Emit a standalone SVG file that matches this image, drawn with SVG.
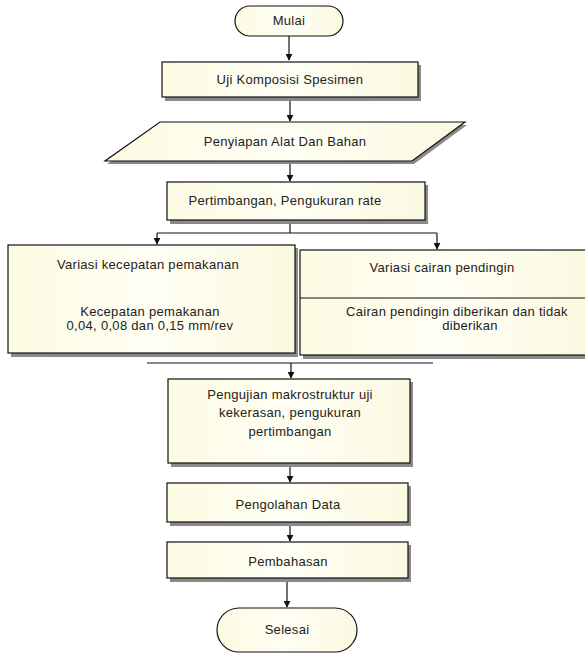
<svg xmlns="http://www.w3.org/2000/svg" width="585" height="657" viewBox="0 0 585 657">
<defs>
<marker id="ah" viewBox="0 0 10 10" refX="9" refY="5" markerWidth="7" markerHeight="7" orient="auto" markerUnits="userSpaceOnUse"><path d="M0,0 L10,5 L0,10 z" fill="#111"/></marker>
<linearGradient id="g" x1="0" y1="0" x2="1" y2="0"><stop offset="0" stop-color="#fdfbe2"/><stop offset="0.5" stop-color="#fffef4"/><stop offset="1" stop-color="#fbf9e0"/></linearGradient>
</defs>
<style>
.box{fill:url(#g);stroke:#111;stroke-width:1.2}
.sh{fill:#8a8a8a}
.t{font-family:"Liberation Sans",Arial,sans-serif;font-size:13px;letter-spacing:0.3px;fill:#222;text-anchor:middle}
.c{fill:none;stroke:#111;stroke-width:1.2}
.ca{fill:none;stroke:#111;stroke-width:1.2;marker-end:url(#ah)}
</style>
<rect width="585" height="657" fill="#fff"/>
<g id="connectors">
<line class="ca" x1="289" y1="36" x2="289" y2="60"/>
<line class="ca" x1="290" y1="101" x2="290" y2="121"/>
<line class="ca" x1="290" y1="161" x2="290" y2="181"/>
<polyline class="c" points="290,224 290,233"/>
<line class="c" x1="157" y1="233" x2="437" y2="233"/>
<line class="ca" x1="157" y1="233" x2="157" y2="244"/>
<line class="ca" x1="437" y1="233" x2="437" y2="249"/>
<line class="c" x1="147" y1="363" x2="433" y2="363"/>
<line class="ca" x1="291" y1="363" x2="291" y2="378"/>
<line class="ca" x1="290" y1="466" x2="290" y2="482"/>
<line class="ca" x1="290" y1="525" x2="290" y2="541"/>
<line class="ca" x1="287" y1="581" x2="287" y2="607"/>
</g>
<g id="mulai">
<rect class="box" x="235" y="6" width="108" height="30" rx="15"/>
<text class="t" x="289" y="25">Mulai</text>
</g>
<g id="uji">
<rect class="sh" x="165" y="65" width="256" height="36"/>
<rect class="box" x="162" y="62" width="256" height="35"/>
<text class="t" x="290" y="84">Uji Komposisi Spesimen</text>
</g>
<g id="penyiapan">
<polygon class="sh" points="162,125 467,125 414,164 107,164"/>
<polygon class="box" points="160,122 465,122 412,161 105,161"/>
<text class="t" x="285" y="146">Penyiapan Alat Dan Bahan</text>
</g>
<g id="pertimbangan">
<rect class="sh" x="170" y="185" width="258" height="39"/>
<rect class="box" x="167" y="182" width="258" height="38"/>
<text class="t" x="285" y="205">Pertimbangan, Pengukuran rate</text>
</g>
<g id="variasi-kecepatan">
<rect class="sh" x="11" y="248" width="287" height="109"/>
<rect class="box" x="8" y="245" width="287" height="108"/>
<text class="t" x="148" y="269">Variasi kecepatan pemakanan</text>
<text class="t" x="150" y="316">Kecepatan pemakanan</text>
<text class="t" x="150" y="330">0,04, 0,08 dan 0,15 mm/rev</text>
</g>
<g id="variasi-cairan">
<rect class="sh" x="303" y="253" width="290" height="106"/>
<rect class="box" x="300" y="250" width="290" height="105"/>
<line class="c" x1="300" y1="298" x2="590" y2="298"/>
<text class="t" x="442" y="272">Variasi cairan pendingin</text>
<text class="t" x="457" y="316">Cairan pendingin diberikan dan tidak</text>
<text class="t" x="470" y="330">diberikan</text>
</g>
<g id="pengujian">
<rect class="sh" x="171" y="382" width="242" height="85"/>
<rect class="box" x="168" y="379" width="242" height="84"/>
<text class="t" x="290" y="399">Pengujian makrostruktur uji</text>
<text class="t" x="290" y="417">kekerasan, pengukuran</text>
<text class="t" x="290" y="436">pertimbangan</text>
</g>
<g id="pengolahan">
<rect class="sh" x="170" y="486" width="241" height="40"/>
<rect class="box" x="167" y="483" width="241" height="39"/>
<text class="t" x="288" y="509">Pengolahan Data</text>
</g>
<g id="pembahasan">
<rect class="sh" x="170" y="545" width="241" height="37"/>
<rect class="box" x="167" y="542" width="241" height="36"/>
<text class="t" x="288" y="566">Pembahasan</text>
</g>
<g id="selesai">
<rect class="box" x="217" y="608" width="140" height="44" rx="22"/>
<text class="t" x="287" y="634">Selesai</text>
</g>
</svg>
